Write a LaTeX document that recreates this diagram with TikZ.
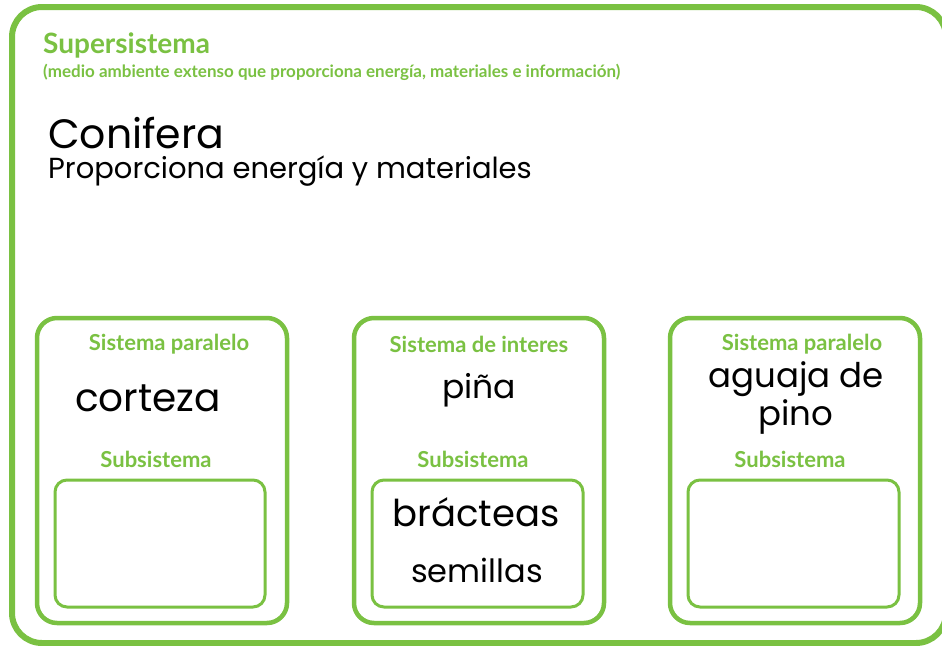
\documentclass[tikz,border=0pt]{standalone}
\usepackage{fontspec}
\setmainfont{Lato}
\newfontfamily\handfont{Poppins}
\definecolor{sgreen}{RGB}{122,193,66}
\tikzset{
  frame/.style={draw=sgreen, line width=6pt, rounded corners=30pt},
  sysbox/.style={draw=sgreen, line width=4.5pt, rounded corners=20pt},
  subbox/.style={draw=sgreen, line width=3pt, rounded corners=12pt},
  glabel/.style={text=sgreen, font=\bfseries\fontsize{22}{25}\selectfont, inner sep=0pt},
  hand/.style={text=black, inner sep=0pt, align=center},
}
\newcommand{\handsz}[1]{\handfont\fontsize{#1}{#1}\selectfont}
\begin{document}
\begin{tikzpicture}[x=1pt,y=-1pt]
\useasboundingbox (0,0) rectangle (942,645);
\clip (0,0) rectangle (942,645);
\fill[white] (0,0) rectangle (942,645);
\draw[frame] (12,7) rectangle (946,643);
% systems
\draw[sysbox] (37,318) rectangle (287,623);
\draw[sysbox] (354,318) rectangle (604,623);
\draw[sysbox] (670,318) rectangle (920,623);
\draw[subbox] (55,480) rectangle (265,607);
\draw[subbox] (372,480) rectangle (583,607);
\draw[subbox] (688,480) rectangle (899,607);
% header
\node[anchor=base west, text=sgreen, font=\bfseries\fontsize{28}{32}\selectfont, inner sep=0pt] (super) at (43,53) {Supersistema};
\node[anchor=base west, text=sgreen, font=\bfseries\fontsize{17}{20}\selectfont, inner sep=0pt] (superdesc) at (43,77) {(medio ambiente extenso que proporciona energía, materiales e información)};
\node[anchor=base west, font=\handsz{41}, inner sep=0pt] (conifera) at (48,148) {Conifera};
\node[anchor=base west, font=\handsz{29}, inner sep=0pt] (prop) at (48,178) {Proporciona energía y materiales};
% box 1
\node[glabel] (sp1) at (169,344) {Sistema paralelo};
\node[hand, font=\handsz{39}] (corteza) at (148,398) {corteza};
\node[glabel] (sub1) at (156,459) {Subsistema};
% box 2
\node[glabel] (si) at (479,344) {Sistema de interes};
\node[hand, font=\handsz{33}] (pina) at (479,390) {piña};
\node[glabel] (sub2) at (473,459) {Subsistema};
\node[hand, font=\handsz{37}] (bract) at (476,512) {brácteas};
\node[hand, font=\handsz{32}] (semi) at (477,570) {semillas};
% box 3
\node[glabel] (sp2) at (802,344) {Sistema paralelo};
\node[hand, font=\handsz{34}, align=center] (aguja) at (796,398) {aguaja de\\[2pt]pino};
\node[glabel] (sub3) at (790,459) {Subsistema};
\end{tikzpicture}
\end{document}
